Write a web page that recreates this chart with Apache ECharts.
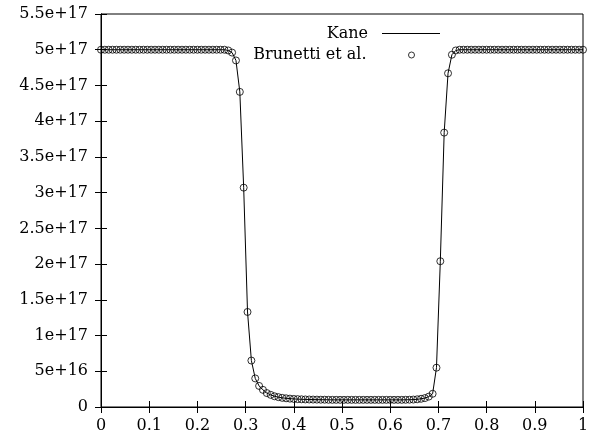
<!DOCTYPE html>
<html>
<head>
<meta charset="utf-8">
<script src="https://cdn.jsdelivr.net/npm/echarts@6/dist/echarts.min.js"></script>
<style>
  html, body { margin: 0; padding: 0; background: #fff; }
  #chart { width: 597px; height: 445px; }
</style>
</head>
<body>
<div id="chart"></div>
<script>
// sample spacing along x (0 .. 1)
var xStep = 0.008;
// density, in units of 1e16
var unit = 1e16;
var density = [
  50, 50, 50, 50, 50, 50, 50, 50, 50, 50, 50,
  50, 50, 50, 50, 50, 50, 50, 50, 50, 50, 50,
  50, 50, 50, 50, 50, 50, 50, 50, 50, 50, 50,
  49.9, 49.6, 48.5, 44.1, 30.7, 13.3, 6.5, 4.0, 2.95, 2.4,
  1.95, 1.7, 1.5, 1.38, 1.28, 1.22, 1.17, 1.13, 1.1, 1.08,
  1.06, 1.05, 1.04, 1.03, 1.02, 1.02, 1.01,
  1.0, 1.0, 1.0, 1.0, 1.0, 1.0, 1.0, 1.0, 1.0, 1.0,
  1.0, 1.0, 1.0, 1.0, 1.0, 1.0, 1.0, 1.0, 1.0,
  1.01, 1.02, 1.04, 1.08, 1.15, 1.25, 1.45, 1.85, 5.5, 20.4,
  38.4, 46.7, 49.3, 49.9,
  50, 50, 50, 50, 50, 50, 50, 50, 50, 50, 50,
  50, 50, 50, 50, 50, 50, 50, 50, 50, 50, 50,
  50, 50, 50, 50, 50, 50, 50, 50, 50, 50, 50
];
var seriesNames = ['Kane', 'Brunetti et al.'];

var points = density.map(function (v, i) {
  return [+(i * xStep).toFixed(3), v * unit];
});

var font = 'DejaVu Serif';
var fs = 16;

function yFmt(v) {
  if (v === 0) return '0';
  return parseFloat(v.toPrecision(6)).toExponential();
}

var tickStyle = { show: true, inside: true, length: 6, lineStyle: { color: '#000', width: 1 } };

var chart = echarts.init(document.getElementById('chart'));
chart.setOption({
  animation: false,
  backgroundColor: '#fff',
  textStyle: { fontFamily: font, color: '#000' },
  grid: { left: 101, right: 14, top: 14, bottom: 38, show: true, borderColor: '#000', borderWidth: 1 },
  legend: [
    {
      data: [{ name: seriesNames[0], icon: 'rect' }],
      align: 'right',
      right: 152,
      top: 20.5,
      itemWidth: 58,
      itemHeight: 1,
      textStyle: { fontFamily: font, fontSize: fs, color: '#000', padding: [0, 9, 0, 0] },
      selectedMode: false
    },
    {
      data: [seriesNames[1]],
      align: 'right',
      right: 177,
      top: 42,
      itemWidth: 6,
      itemHeight: 6,
      itemStyle: { color: 'rgba(0,0,0,0)', borderColor: '#000', borderWidth: 1 },
      textStyle: { fontFamily: font, fontSize: fs, color: '#000', padding: [0, 37, 0, 0] },
      selectedMode: false
    }
  ],
  xAxis: [
    {
      type: 'value', min: 0, max: 1, interval: 0.1,
      axisLine: { show: true, lineStyle: { color: '#000' } },
      axisTick: tickStyle,
      splitLine: { show: false },
      axisLabel: { fontFamily: font, fontSize: fs, color: '#000', margin: 11 }
    },
    {
      type: 'value', position: 'top', min: 0, max: 1, interval: 0.1,
      axisLine: { show: true, lineStyle: { color: '#000' } },
      axisTick: tickStyle,
      splitLine: { show: false },
      axisLabel: { show: false }
    }
  ],
  yAxis: [
    {
      type: 'value', min: 0, max: 5.5e17, interval: 5e16,
      axisLine: { show: true, lineStyle: { color: '#000' } },
      axisTick: tickStyle,
      splitLine: { show: false },
      axisLabel: { fontFamily: font, fontSize: fs, color: '#000', margin: 13, formatter: yFmt }
    },
    {
      type: 'value', position: 'right', min: 0, max: 5.5e17, interval: 5e16,
      axisLine: { show: true, lineStyle: { color: '#000' } },
      axisTick: tickStyle,
      splitLine: { show: false },
      axisLabel: { show: false }
    }
  ],
  series: [
    {
      name: seriesNames[0],
      type: 'line',
      data: points,
      symbol: 'none',
      lineStyle: { color: '#000', width: 1 },
      itemStyle: { color: '#000' },
      z: 2
    },
    {
      name: seriesNames[1],
      type: 'scatter',
      data: points,
      symbol: 'circle',
      symbolSize: 7,
      itemStyle: { color: 'rgba(0,0,0,0)', borderColor: '#000', borderWidth: 1 },
      z: 3
    }
  ]
});
</script>
</body>
</html>
